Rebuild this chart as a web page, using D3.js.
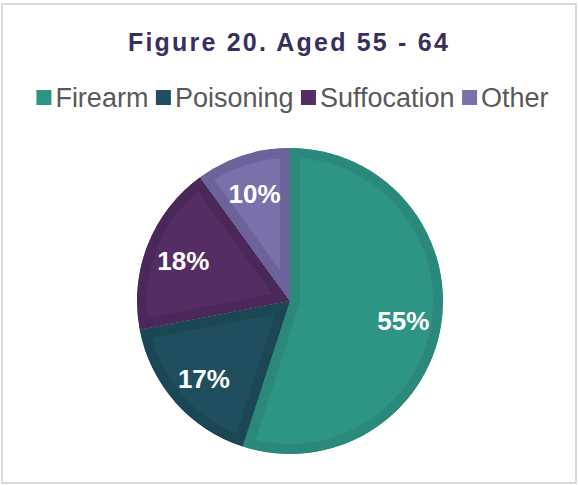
<!DOCTYPE html>
<html>
<head>
<meta charset="utf-8">
<script src="https://cdn.jsdelivr.net/npm/d3@7/dist/d3.min.js"></script>
<style>
  html, body { margin: 0; padding: 0; background: #fff; }
  svg { display: block; }
</style>
</head>
<body>
<script>
// Share of deaths by method, ages 55 - 64
const categories = ["Firearm", "Poisoning", "Suffocation", "Other"];
const values = [55, 17, 18, 10];
const fills = ["#2e9585", "#1f4f5f", "#532d63", "#7a70aa"];
const edges = ["#2a897a", "#1b4653", "#4a2859", "#6d639b"];
const title = "Figure 20. Aged 55 - 64";

const W = 578, H = 485;
const svg = d3.select("body").append("svg").attr("width", W).attr("height", H);

// chart frame
svg.append("rect")
  .attr("x", 2).attr("y", 4).attr("width", W - 4).attr("height", H - 6)
  .attr("fill", "#fff").attr("stroke", "#d9d9d9").attr("stroke-width", 2);

// title
svg.append("text")
  .attr("x", 289).attr("y", 51)
  .attr("text-anchor", "middle")
  .attr("font-family", "Liberation Sans, Arial, sans-serif")
  .attr("font-weight", "bold")
  .attr("font-size", 25)
  .attr("letter-spacing", 2.2)
  .attr("fill", "#3a2f5c")
  .text(title);

// legend
const legend = svg.append("g");
const fontSize = 27, sq = 15, gapText = 4, gapItem = 7.5;
let x = 0;
categories.forEach((c, i) => {
  const g = legend.append("g");
  g.append("rect").attr("x", x).attr("y", -sq - 2).attr("width", sq).attr("height", sq).attr("fill", fills[i]);
  const t = g.append("text")
    .attr("x", x + sq + gapText).attr("y", 0)
    .attr("font-family", "Liberation Sans, Arial, sans-serif")
    .attr("font-size", fontSize)
    .attr("fill", "#595959")
    .text(c);
  x += sq + gapText + t.node().getComputedTextLength() + gapItem;
});
const legendW = x - gapItem;
legend.attr("transform", `translate(${292.5 - legendW / 2}, 107)`);

// pie
const cx = 290, cy = 301, R = 153;
const pie = d3.pie().sort(null).value(d => d)(values);
const arc = d3.arc().innerRadius(0).outerRadius(R);
const labelArc = d3.arc().innerRadius(R * 0.75).outerRadius(R * 0.75);

const chart = svg.append("g").attr("transform", `translate(${cx},${cy})`);
const defs = svg.append("defs");

pie.forEach((p, i) => {
  const id = "slice-clip-" + i;
  defs.append("clipPath").attr("id", id).append("path").attr("d", arc(p));
  chart.append("path")
    .attr("d", arc(p))
    .attr("fill", fills[i])
    .attr("stroke", edges[i])
    .attr("stroke-width", 20)
    .attr("stroke-linejoin", "miter")
    .attr("clip-path", `url(#${id})`);
});

pie.forEach((p, i) => {
  const [lx, ly] = labelArc.centroid(p);
  chart.append("text")
    .attr("x", lx).attr("y", ly + 2)
    .attr("text-anchor", "middle")
    .attr("dominant-baseline", "central")
    .attr("font-family", "Liberation Sans, Arial, sans-serif")
    .attr("font-weight", "bold")
    .attr("font-size", 26)
    .attr("fill", "#ffffff")
    .text(values[i] + "%");
});
</script>
</body>
</html>
